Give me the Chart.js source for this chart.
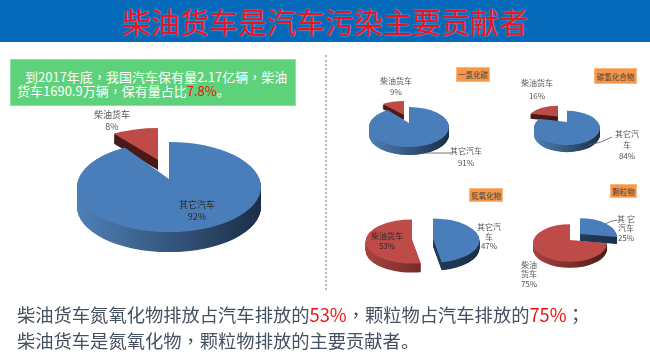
<!DOCTYPE html>
<html><head><meta charset="utf-8">
<script src="https://cdn.jsdelivr.net/npm/chart.js@4/dist/chart.umd.min.js"></script>
<style>
html,body{margin:0;padding:0;background:#fff;}
#page{position:relative;width:650px;height:360px;overflow:hidden;font-family:"Noto Sans CJK SC","Noto Sans",sans-serif;}
#head{position:absolute;left:0;top:0;width:650px;height:42px;background:#0569B9;}
#title{position:absolute;left:0;top:0;width:650px;height:42px;line-height:42px;text-align:center;color:#F01020;font-size:29px;font-weight:400;text-shadow:0 0 2px #fff8;white-space:nowrap;}
#note{position:absolute;left:10px;top:59px;width:284px;height:45px;background:#5DD27A;border:1px solid #8be3a2;box-sizing:content-box;color:#fff;font-size:13px;line-height:15px;white-space:nowrap;}
#note div{position:absolute;}
#sep{position:absolute;left:325px;top:55px;height:235px;border-left:2px dotted #b9b9b9;}
canvas{position:absolute;filter:blur(.35px);}
.lb{position:absolute;transform:translate(-50%,-50%);color:#555;font-size:8px;line-height:10px;white-space:nowrap;text-align:center;}
.big{font-size:9px;}
.dk{color:#2a2a2a;}
.tag{position:absolute;background:#F79646;border:1px solid #fbb77f;box-sizing:border-box;color:#444;font-size:7.5px;display:flex;align-items:center;justify-content:center;white-space:nowrap;}
.bt{position:absolute;left:17px;color:#44505f;font-size:18.3px;line-height:24px;white-space:nowrap;}
.r{color:#F01010;}
.p{font-family:"Noto Sans CJK TC",sans-serif;}
svg{position:absolute;left:0;top:0;}
</style></head><body>
<div id="page">
<div id="head"></div><div id="title">柴油货车是汽车污染主要贡献者</div>
<div id="note"><div style="left:14px;top:9px">到2017年底<span class="p">&#xFF0C;</span>我国汽车保有量2.17亿辆<span class="p">&#xFF0C;</span>柴油</div><div style="left:6px;top:23px">货车1690.9万辆<span class="p">&#xFF0C;</span>保有量占比<span class="r">7.8%</span>。</div></div>
<div id="sep"></div>
<svg width="650" height="360"><path d="M422 153 H451" stroke="#555" fill="none" stroke-width=".8"/><path d="M588 145 Q602 143 612 137" stroke="#555" fill="none" stroke-width=".8"/><path d="M605 224 Q610 221 617 220" stroke="#555" fill="none" stroke-width=".8"/></svg>
<div class="bt" style="top:302px">柴油货车氮氧化物排放占汽车排放的<span class="r">53%</span><span class="p">&#xFF0C;</span>颗粒物占汽车排放的<span class="r">75%</span><span class="p">&#xFF1B;</span></div>
<div class="bt" style="top:328px">柴油货车是氮氧化物<span class="p">&#xFF0C;</span>颗粒物排放的主要贡献者。</div>
</div>
<script>
const categories = ['其它汽车', '柴油货车'];
const totalShare = [92, 8];
const coShare = [91, 9];
const hcShare = [84, 16];
const noxShare = [47, 53];
const pmShare = [25, 75];
const tagNames = ['一氯化碳', '碳氢化合物', '氮氧化物', '颗粒物'];

const BLUE = '#4A7EBB', RED = '#BE4B48';
const faces = [BLUE, RED];
const page = document.getElementById('page');

const pie3d = {
  id: 'pie3d',
  beforeDatasetDraw(chart, args, o) {
    const els = chart.getDatasetMeta(0).data;
    const ctx = chart.ctx;
    for (let i = els.length - 1; i >= 0; i--) {
      const el = els[i], s = o.slices[i];
      const cx = el.x + s.dx, cy = el.y + s.dy, rx = el.outerRadius, ry = rx * o.tilt;
      const path = (d) => {
        ctx.beginPath();
        ctx.moveTo(cx, cy - s.lift + d);
        ctx.ellipse(cx, cy + d, rx, ry, 0, el.startAngle, el.endAngle);
        ctx.closePath();
      };
      const g = ctx.createLinearGradient(cx - rx, 0, cx + rx, 0);
      g.addColorStop(0, s.wall[0]); g.addColorStop(1, s.wall[1]);
      ctx.fillStyle = g;
      for (let d = s.depth; d >= 1; d -= 0.5) { path(d); ctx.fill(); }
      path(0); ctx.fillStyle = el.options.backgroundColor; ctx.fill();
    }
    return false;
  }
};

function pie(values, cx, cy, rx, tilt, slices) {
  const size = Math.ceil((rx + 40) * 2);
  const c = document.createElement('canvas');
  c.width = size; c.height = size;
  c.style.cssText = `left:${cx - size / 2}px;top:${cy - size / 2}px;width:${size}px;height:${size}px`;
  page.insertBefore(c, document.getElementById('sep'));
  new Chart(c, {
    type: 'pie',
    data: { labels: categories, datasets: [{ data: values, backgroundColor: faces, borderWidth: 0 }] },
    options: { responsive: false, animation: false, radius: rx,
      plugins: { legend: { display: false }, tooltip: { enabled: false },
        pie3d: { tilt, slices } } },
    plugins: [pie3d]
  });
}
const BW = ['#4f80b6', '#1b2e46'], RW = ['#a8433f', '#4f1c1a'], DR = ['#4a1a18', '#4a1a18'], DB = ['#2b4a70', '#1b2e46'];
pie(totalShare, 169, 187, 92, 0.49, [{dx:0,dy:0,lift:8,depth:20,wall:BW},{dx:-11,dy:-14,lift:13,depth:10,wall:DR}]);
pie(coShare, 409, 127, 40, 0.5, [{dx:0,dy:0,lift:4,depth:8,wall:BW},{dx:-5,dy:-6,lift:6,depth:5,wall:DR}]);
pie(hcShare, 566.5, 127.5, 33, 0.52, [{dx:0,dy:0,lift:6,depth:7,wall:BW},{dx:-9,dy:-5,lift:6.5,depth:5,wall:DR}]);
pie(noxShare, 422.5, 240, 46.5, 0.475, [{dx:10.5,dy:0,lift:2,depth:8,wall:DB},{dx:-10.5,dy:1,lift:2,depth:9,wall:RW}]);
pie(pmShare, 570, 243, 37, 0.51, [{dx:10,dy:-6,lift:3,depth:7,wall:DB},{dx:0,dy:0,lift:3,depth:6,wall:RW}]);

function label(x, y, t, cls) { const d = document.createElement('div'); d.className = 'lb ' + (cls || ''); d.style.left = x + 'px'; d.style.top = y + 'px'; d.textContent = t; page.appendChild(d); }
function tag(x0, y0, x1, y1, t) { const d = document.createElement('div'); d.className = 'tag'; d.style.cssText = `left:${x0}px;top:${y0}px;width:${x1-x0}px;height:${y1-y0}px`; d.textContent = t; page.appendChild(d); }
const pct = v => v + '%';
label(112,115,categories[1],'big'); label(112,127,pct(totalShare[1]),'big');
label(197,205,categories[0],'big dk'); label(197,217,pct(totalShare[0]),'big dk');
label(396,81,categories[1]); label(396,92,pct(coShare[1]));
label(466,151,categories[0]); label(466,163,pct(coShare[0]));
label(537,83,categories[1]); label(537,96,pct(hcShare[1]));
label(627,134,'其它汽'); label(627,145,'车'); label(627,156,pct(hcShare[0]));
label(387,236,categories[1],'dk'); label(387,246,pct(noxShare[1]),'dk');
label(489,227,'其它汽'); label(489,237,'车'); label(489,246,pct(noxShare[0]));
label(626,219,'其 它'); label(626,228,'汽车'); label(626,238,pct(pmShare[0]));
label(529,265,'柴油'); label(529,274,'货车'); label(529,284,pct(pmShare[1]));
tag(456,67,490,82,tagNames[0]); tag(594,68,637,84,tagNames[1]); tag(469,188,503,202,tagNames[2]); tag(610,184,637,198,tagNames[3]);
</script>
</body></html>
